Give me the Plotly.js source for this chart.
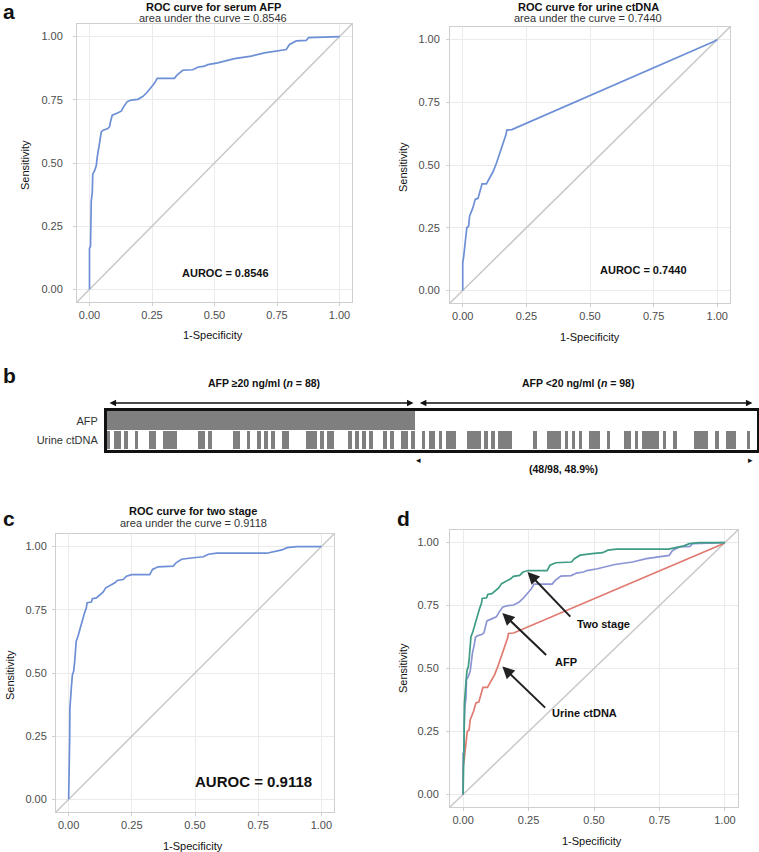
<!DOCTYPE html>
<html>
<head>
<meta charset="utf-8">
<script src="https://cdn.plot.ly/plotly-3.0.1.min.js"></script>
<style>body{margin:0;background:#fff}#chart{width:759px;height:852px}</style>
</head>
<body>
<div id="chart"></div>
<script>
// ROC points: 1-specificity / sensitivity
var afpFpr = [0, 0, 0.004, 0.004, 0.007, 0.011, 0.013, 0.02, 0.027, 0.031,
    0.036, 0.043, 0.047, 0.053, 0.073, 0.08, 0.084, 0.091, 0.107, 0.127,
    0.137, 0.151, 0.167, 0.193, 0.213, 0.227, 0.247, 0.26, 0.271, 0.34,
    0.351, 0.373, 0.413, 0.433, 0.46, 0.473, 0.513, 0.58, 0.647, 0.7,
    0.787, 0.8, 0.827, 0.867, 0.876, 1];
var afpTpr = [0, 0.163, 0.17, 0.269, 0.349, 0.383, 0.456, 0.469, 0.489, 0.523,
    0.563, 0.596, 0.623, 0.629, 0.636, 0.643, 0.663, 0.689, 0.696, 0.705,
    0.723, 0.743, 0.749, 0.752, 0.763, 0.776, 0.8, 0.816, 0.835, 0.835,
    0.849, 0.867, 0.869, 0.879, 0.883, 0.889, 0.896, 0.913, 0.923, 0.936,
    0.949, 0.969, 0.983, 0.985, 0.996, 1];

var urineFpr = [0, 0, 0.004, 0.009, 0.012, 0.016, 0.023, 0.027, 0.04, 0.044,
    0.049, 0.06, 0.064, 0.07, 0.076, 0.093, 0.106, 0.12, 0.133, 0.146,
    0.159, 0.17, 0.173, 0.193, 0.989, 1];
var urineTpr = [0, 0.11, 0.137, 0.177, 0.21, 0.25, 0.256, 0.296, 0.33, 0.343,
    0.363, 0.367, 0.382, 0.41, 0.425, 0.425, 0.449, 0.475, 0.509, 0.548,
    0.588, 0.621, 0.639, 0.641, 0.993, 1];

var twoFpr = [0, 0.001, 0.004, 0.005, 0.008, 0.011, 0.015, 0.02, 0.024, 0.026,
    0.03, 0.037, 0.044, 0.05, 0.057, 0.063, 0.07, 0.073, 0.09, 0.094,
    0.11, 0.123, 0.136, 0.147, 0.163, 0.183, 0.192, 0.216, 0.229, 0.249,
    0.321, 0.332, 0.354, 0.414, 0.425, 0.447, 0.493, 0.533, 0.553, 0.586,
    0.784, 0.811, 0.844, 0.864, 0.903, 1];
var twoTpr = [0, 0.2, 0.235, 0.36, 0.433, 0.446, 0.493, 0.507, 0.546, 0.592,
    0.626, 0.645, 0.672, 0.698, 0.718, 0.738, 0.758, 0.778, 0.781, 0.794,
    0.797, 0.81, 0.82, 0.837, 0.846, 0.857, 0.866, 0.87, 0.883, 0.889,
    0.889, 0.91, 0.92, 0.923, 0.936, 0.95, 0.956, 0.96, 0.97, 0.974,
    0.974, 0.98, 0.987, 0.996, 1, 1];

var aucAfp = '0.8546', aucUrine = '0.7440', aucTwo = '0.9118';

// panel b: urine ctDNA result per patient (1 = positive), by AFP group
var urineAfpHigh = [1,0,1,1,0,1,0,0,1,0, 0,0,1,1,0,0,1,1,1,1,
    0,0,0,0,0,0,1,1,0,1, 0,0,0,0,0,0,1,1,0,0,
    1,0,0,1,0,1,0,1,0,0, 1,1,0,0,0,0,0,1,1,1,
    0,1,0,1,1,0,0,0,0,1, 0,1,0,1,0,1,0,0,0,1,
    0,1,0,0,1,1,0,1];
var urineAfpLow = [0,0,1,0,1,1,0,1,0,1, 1,1,0,0,0,1,1,1,1,0,
    1,0,1,0,1,1,1,1,0,0, 0,0,0,0,1,0,0,0,1,1,
    1,1,0,1,0,1,0,1,0,0, 1,1,1,0,0,1,0,0,0,0,
    1,1,0,1,0,1,1,1,1,1, 0,1,0,0,1,0,0,0,0,0,
    1,1,1,1,0,0,1,0,0,1, 1,1,0,0,0,1,0,0];
var rowNames = ['Urine ctDNA', 'AFP'];

var W = 759, H = 852;
var FONT = 'Liberation Sans, Arial, sans-serif';
function dx(a, b) { return [a / W, b / W]; }
function dy(top, bottom) { return [1 - bottom / H, 1 - top / H]; }
function px(x) { return x / W; }
function py(y) { return 1 - y / H; }

var blue = '#6d8fd6';
var green = '#3f9c84';
var lav = '#8c95d3';
var red = '#e07a70';

function diag(xa, ya) {
    return {x: [-0.05, 1.05], y: [-0.05, 1.05], xaxis: xa, yaxis: ya, mode: 'lines',
        line: {color: '#c8c8c8', width: 1.5}, hoverinfo: 'skip'};
}
function curve(xa, ya, fpr, tpr, color, name) {
    return {x: fpr, y: tpr, xaxis: xa, yaxis: ya, mode: 'lines', name: name,
        line: {color: color, width: 1.7}};
}

var afpGroup = [], urineAll = [], idx = [];
for (var i = 0; i < urineAfpHigh.length; i++) { afpGroup.push(1); urineAll.push(urineAfpHigh[i]); }
for (var j = 0; j < urineAfpLow.length; j++) { afpGroup.push(0); urineAll.push(urineAfpLow[j]); }
for (var k = 0; k < afpGroup.length; k++) idx.push(k);

var data = [
    diag('x', 'y'), curve('x', 'y', afpFpr, afpTpr, blue, 'AFP'),
    diag('x2', 'y2'), curve('x2', 'y2', urineFpr, urineTpr, blue, 'Urine ctDNA'),
    diag('x3', 'y3'), curve('x3', 'y3', twoFpr, twoTpr, blue, 'Two stage'),
    diag('x4', 'y4'),
    curve('x4', 'y4', urineFpr, urineTpr, red, 'Urine ctDNA'),
    curve('x4', 'y4', afpFpr, afpTpr, lav, 'AFP'),
    curve('x4', 'y4', twoFpr, twoTpr, green, 'Two stage'),
    {type: 'heatmap', x: idx, y: rowNames, z: [urineAll, afpGroup], xaxis: 'x5', yaxis: 'y5',
        colorscale: [[0, '#ffffff'], [1, '#7f7f7f']], zmin: 0, zmax: 1, showscale: false, ygap: 1}
];

function rocAxis(dom, anchor, standoff) {
    return {domain: dom, anchor: anchor, range: [-0.05, 1.05], tick0: 0, dtick: 0.25, tickformat: '.2f',
        showgrid: true, gridcolor: '#ebebeb', gridwidth: 1, zeroline: false,
        showline: true, mirror: true, linecolor: '#cfcfcf', linewidth: 1,
        ticks: 'outside', ticklen: 3, tickcolor: '#cfcfcf',
        tickfont: {family: FONT, size: 11, color: '#4d4d4d'}, ticklabelstandoff: standoff || 0,
        fixedrange: true};
}

var notes = [];
function note(text, x, y, size, bold, extra) {
    var a = {text: text, xref: 'paper', yref: 'paper', x: px(x), y: py(y), showarrow: false,
        xanchor: 'center', yanchor: 'middle',
        font: {family: FONT, size: size, color: '#111', weight: bold ? 'bold' : 'normal'}};
    for (var key in extra) a[key] = extra[key];
    notes.push(a);
}
function dataNote(text, xa, ya, x, y, size) {
    notes.push({text: text, xref: xa, yref: ya, x: x, y: y, showarrow: false,
        font: {family: FONT, size: size, color: '#111', weight: 'bold'}});
}
var subFont = {family: FONT, size: 11, color: '#333'};

// panel letters
note('a', 9, 11, 21, true);
note('b', 9, 376, 21, true);
note('c', 9, 518, 21, true);
note('d', 403, 518, 21, true);

// panel a
note('ROC curve for serum AFP', 213, 7, 11, true);
note('area under the curve = ' + aucAfp, 213, 18, 11, false, {font: subFont});
note('ROC curve for urine ctDNA', 588, 7, 11, true);
note('area under the curve = ' + aucUrine, 588, 18, 11, false, {font: subFont});
note('Sensitivity', 25, 165, 11, false, {textangle: -90});
note('Sensitivity', 403, 167, 11, false, {textangle: -90});
note('1-Specificity', 213, 335, 11, false);
note('1-Specificity', 590, 337, 11, false);
dataNote('AUROC = ' + aucAfp, 'x', 'y', 0.544, 0.064, 11);
dataNote('AUROC = ' + aucUrine, 'x2', 'y2', 0.71, 0.08, 11);

// panel b
note('AFP \u226520 ng/ml (<i>n</i> = 88)', 264, 383, 10.5, true);
note('AFP &lt;20 ng/ml (<i>n</i> = 98)', 578, 383, 10.5, true);
note('(48/98, 48.9%)', 563, 469, 10.5, true);
note('\u25C2', 419, 460, 9, false);
note('\u25B8', 750, 460, 9, false);
[[87.2, -0.2], [184.2, 88.6]].forEach(function (p) {
    notes.push({xref: 'x5', yref: 'paper', x: p[0], y: py(403), axref: 'x5', ax: p[1], ay: 0,
        text: '', showarrow: true, arrowside: 'end+start', arrowhead: 2, arrowsize: 1,
        arrowwidth: 1.3, arrowcolor: '#111'});
});

// panel c
note('ROC curve for two stage', 193, 511, 11, true);
note('area under the curve = ' + aucTwo, 193, 523, 11, false, {font: subFont});
note('Sensitivity', 10, 675, 11, false, {textangle: -90});
note('1-Specificity', 193, 846, 11, false);
dataNote('AUROC = ' + aucTwo, 'x3', 'y3', 0.73, 0.072, 15);

// panel d
note('Sensitivity', 403, 668, 11, false, {textangle: -90});
note('1-Specificity', 592, 841, 11, false);
var dArrows = [
    {label: 'Two stage', head: [0.246, 0.883], tail: [0.415, 0.70], at: [0.535, 0.677]},
    {label: 'AFP', head: [0.15, 0.72], tail: [0.323, 0.548], at: [0.392, 0.524]},
    {label: 'Urine ctDNA', head: [0.15, 0.508], tail: [0.319, 0.339], at: [0.462, 0.323]}
];
dArrows.forEach(function (d) {
    notes.push({xref: 'x4', yref: 'y4', x: d.head[0], y: d.head[1], axref: 'x4', ayref: 'y4',
        ax: d.tail[0], ay: d.tail[1], text: '', showarrow: true, arrowhead: 2,
        arrowsize: 1.2, arrowwidth: 2, arrowcolor: '#222'});
    dataNote(d.label, 'x4', 'y4', d.at[0], d.at[1], 11);
});

var layout = {
    width: W, height: H,
    margin: {l: 0, r: 0, t: 0, b: 0},
    paper_bgcolor: '#ffffff', plot_bgcolor: '#ffffff',
    showlegend: false,
    font: {family: FONT, size: 11, color: '#111'},
    xaxis: rocAxis(dx(77, 352), 'y'),
    yaxis: rocAxis(dy(24, 302), 'x', 8),
    xaxis2: rocAxis(dx(450, 730), 'y2'),
    yaxis2: rocAxis(dy(27, 303), 'x2', 4),
    xaxis3: rocAxis(dx(56, 334), 'y3'),
    yaxis3: rocAxis(dy(534, 812), 'x3', 3),
    xaxis4: rocAxis(dx(450, 738), 'y4'),
    yaxis4: rocAxis(dy(530, 807), 'x4', 5),
    xaxis5: {domain: dx(107, 757), anchor: 'y5', range: [-0.5, 185.5], showticklabels: false,
        showgrid: false, zeroline: false, showline: true, mirror: true, linecolor: '#111', linewidth: 3,
        ticks: '', fixedrange: true},
    yaxis5: {domain: dy(411, 450), anchor: 'x5', type: 'category', range: [-0.5, 1.5],
        showgrid: false, zeroline: false, showline: true, mirror: true, linecolor: '#111', linewidth: 3,
        ticks: '', tickfont: {family: FONT, size: 11, color: '#333'}, ticklabelstandoff: 4, fixedrange: true},
    annotations: notes
};

Plotly.newPlot('chart', data, layout, {displayModeBar: false, staticPlot: true});
</script>
</body>
</html>
